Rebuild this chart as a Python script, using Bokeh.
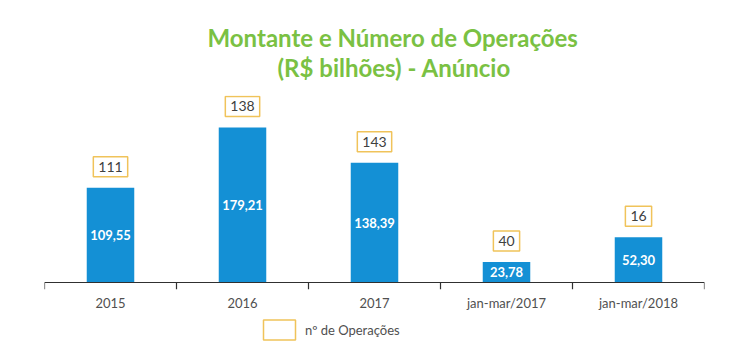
from bokeh.plotting import figure
from bokeh.layouts import column
from bokeh.models import (ColumnDataSource, FactorRange, Range1d, Legend,
                          LegendItem, CategoricalAxis)
from bokeh.core.properties import value
from bokeh.embed import file_html
from bokeh.resources import INLINE

# ---- data ----
categorias = ["2015", "2016", "2017", "jan-mar/2017", "jan-mar/2018"]
montante = [109.55, 179.21, 138.39, 23.78, 52.30]
operacoes = [111, 138, 143, 40, 16]
montante_txt = [f"{v:.2f}".replace(".", ",") for v in montante]
titulo1 = "Montante e Número de Operações"
titulo2 = "(R$ bilhões) - Anúncio"
legenda = "nº de Operações"

FONT = "Lato"
GREEN = "#7AC143"
BLUE = "#1490D5"
GOLD = "#F0C35A"
GREY = "#505050"

W = 750

# ---- header with the two title lines (pixel coordinates) ----
h = figure(width=W, height=95, output_backend="svg", toolbar_location=None,
           x_axis_location=None, y_axis_location=None, frame_align=False,
           min_border_left=0, min_border_right=0, min_border_top=0, min_border_bottom=0,
           x_range=Range1d(0, W), y_range=Range1d(95, 0))
h.outline_line_color = None
h.grid.grid_line_color = None
h.text(x=[207, 277], y=[37, 67], text=[titulo1, titulo2], text_font=value(FONT),
       text_font_style="bold", text_font_size="24px", text_color=GREEN,
       text_align="left", text_baseline="alphabetic")

# ---- main chart ----
src = ColumnDataSource(dict(cat=categorias, mont=montante, half=[m / 2 for m in montante],
                            mtxt=montante_txt, ops=[str(o) for o in operacoes]))

p = figure(width=W, height=221, output_backend="svg", toolbar_location=None,
           x_range=FactorRange(*categorias, range_padding=0), frame_align=False,
           y_range=Range1d(-8.1, 216.2), x_axis_location=None, y_axis_location=None,
           min_border_left=44, min_border_right=46, min_border_top=0,
           min_border_bottom=27)
p.outline_line_color = None
p.grid.grid_line_color = None
p.background_fill_color = "white"

p.vbar(x="cat", top="mont", width=0.36, source=src, fill_color=BLUE, line_color=None)

p.text(x="cat", y="half", text="mtxt", source=src, text_color="white",
       text_font=value(FONT), text_font_style="bold", text_font_size="13px",
       text_align="center", text_baseline="middle")

p.text(x="cat", y="mont", text="ops", source=src, text_color="#404040",
       text_font=value(FONT), text_font_size="14px", text_align="center",
       text_baseline="bottom", y_offset=-11, background_fill_color="white",
       border_line_color=GOLD, border_line_width=1.5, padding=5)

n = len(categorias)
p.segment(x0=[0], y0=[0], x1=[n], y1=[0], line_color="#303030", line_width=1.2)
p.segment(x0=list(range(n + 1)), y0=[0] * (n + 1), x1=list(range(n + 1)),
          y1=[-8.1] * (n + 1), line_color="#303030", line_width=1.2)

xax = CategoricalAxis(axis_line_color=None, major_tick_line_color=None,
                      major_tick_out=0, major_tick_in=0, major_label_standoff=5,
                      major_label_text_font=FONT, major_label_text_font_size="13px",
                      major_label_text_color=GREY)
p.add_layout(xax, "below")

# ---- legend strip ----
q = figure(width=W, height=36, output_backend="svg", toolbar_location=None,
           x_axis_location=None, y_axis_location=None, frame_align=False,
           min_border_left=0, min_border_right=0, min_border_top=0, min_border_bottom=0,
           x_range=Range1d(0, 1), y_range=Range1d(0, 1))
q.outline_line_color = None
q.grid.grid_line_color = None
dummy = q.rect(x=[-5], y=[-5], width=1, height=1, fill_color="white", line_color=GOLD,
               line_width=1.5)
leg = Legend(items=[LegendItem(label=legenda, renderers=[dummy])],
             orientation="horizontal", location=(259, 10), glyph_width=40,
             glyph_height=25, label_standoff=6, padding=0, margin=0,
             border_line_color=None, background_fill_alpha=0,
             label_text_font=FONT, label_text_font_size="13px",
             label_text_color=GREY)
q.add_layout(leg, "center")

open("out.html", "w").write(file_html(column(h, p, q, spacing=0), INLINE))
